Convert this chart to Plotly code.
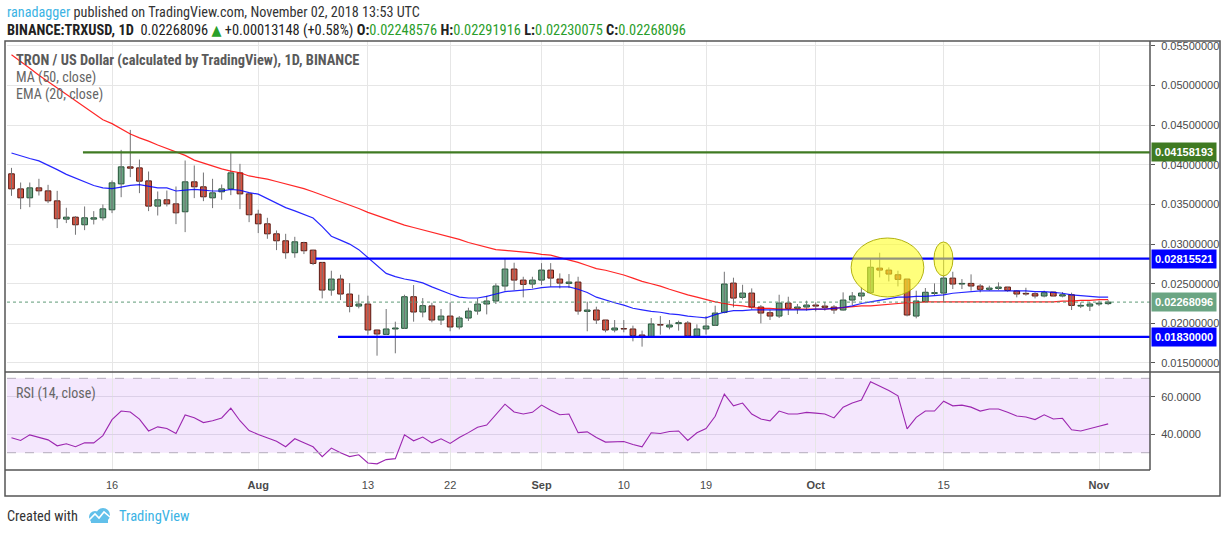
import pandas as pd
import plotly.graph_objects as go

# ---------------- data ----------------
start_date = "2018-07-05"

opens = [
    0.03887, 0.03697, 0.03584, 0.03710, 0.03672, 0.03546, 0.03315, 0.03340, 0.03244, 0.03315,
    0.03332, 0.03433, 0.03760, 0.03975, 0.03962, 0.03798, 0.03479, 0.03559, 0.03508, 0.03408,
    0.03786, 0.03723, 0.03584, 0.03660, 0.03697, 0.03899, 0.03634, 0.03378, 0.03256, 0.03130,
    0.03042, 0.02891, 0.03020, 0.02924, 0.02769, 0.02420, 0.02559, 0.02370, 0.02218, 0.02244,
    0.01916, 0.01861, 0.01929, 0.01937, 0.02336, 0.02143, 0.02220, 0.02042, 0.02092, 0.01954,
    0.02067, 0.02155, 0.02244, 0.02282, 0.02471, 0.02685, 0.02546, 0.02496, 0.02546, 0.02672,
    0.02559, 0.02504, 0.02521, 0.02151, 0.02168, 0.02042, 0.01916, 0.01933, 0.01929, 0.01853,
    0.01824, 0.01983, 0.01954, 0.01996, 0.02004, 0.01840, 0.01929, 0.01975, 0.02139, 0.02508,
    0.02328, 0.02382, 0.02206, 0.02134, 0.02092, 0.02256, 0.02189, 0.02206, 0.02231, 0.02218,
    0.02206, 0.02168, 0.02294, 0.02345, 0.02387, 0.02697, 0.02672, 0.02613, 0.02559, 0.02092,
    0.02273, 0.02378, 0.02382, 0.02571, 0.02496, 0.02504, 0.02471, 0.02429, 0.02441, 0.02458,
    0.02408, 0.02378, 0.02374, 0.02345, 0.02395, 0.02345, 0.02361, 0.02218, 0.02218, 0.02244,
    0.02249,
]
highs = [
    0.03962, 0.03777, 0.03777, 0.03824, 0.03748, 0.03672, 0.03458, 0.03353, 0.03475, 0.03416,
    0.03500, 0.03803, 0.04189, 0.04441, 0.04067, 0.03916, 0.03664, 0.03676, 0.03727, 0.04055,
    0.03992, 0.03903, 0.03824, 0.03752, 0.04151, 0.04013, 0.03651, 0.03433, 0.03332, 0.03172,
    0.03130, 0.03092, 0.03030, 0.02928, 0.02773, 0.02664, 0.02613, 0.02508, 0.02361, 0.02349,
    0.01920, 0.02181, 0.02021, 0.02361, 0.02483, 0.02319, 0.02260, 0.02181, 0.02265, 0.02092,
    0.02197, 0.02315, 0.02349, 0.02504, 0.02824, 0.02765, 0.02588, 0.02588, 0.02760, 0.02760,
    0.02630, 0.02622, 0.02588, 0.02273, 0.02210, 0.02042, 0.02042, 0.02042, 0.01971, 0.01908,
    0.02067, 0.02092, 0.02042, 0.02034, 0.02029, 0.01987, 0.02092, 0.02223, 0.02651, 0.02576,
    0.02487, 0.02441, 0.02231, 0.02172, 0.02361, 0.02336, 0.02244, 0.02286, 0.02265, 0.02270,
    0.02231, 0.02391, 0.02395, 0.02458, 0.02812, 0.02891, 0.02706, 0.02664, 0.02559, 0.02412,
    0.02446, 0.02504, 0.02998, 0.02651, 0.02559, 0.02618, 0.02496, 0.02475, 0.02517, 0.02458,
    0.02420, 0.02449, 0.02391, 0.02412, 0.02395, 0.02395, 0.02387, 0.02265, 0.02269, 0.02286,
    0.02292,
]
lows = [
    0.03609, 0.03441, 0.03466, 0.03613, 0.03517, 0.03202, 0.03265, 0.03118, 0.03176, 0.03248,
    0.03298, 0.03391, 0.03592, 0.03845, 0.03643, 0.03416, 0.03361, 0.03475, 0.03252, 0.03151,
    0.03580, 0.03542, 0.03454, 0.03559, 0.03618, 0.03441, 0.03277, 0.03139, 0.03067, 0.02924,
    0.02815, 0.02828, 0.02874, 0.02735, 0.02315, 0.02349, 0.02294, 0.02139, 0.02189, 0.01857,
    0.01592, 0.01853, 0.01622, 0.01929, 0.02021, 0.02076, 0.02013, 0.01979, 0.01900, 0.01924,
    0.02030, 0.02109, 0.02113, 0.02244, 0.02412, 0.02420, 0.02328, 0.02441, 0.02483, 0.02462,
    0.02441, 0.02445, 0.02109, 0.01900, 0.01992, 0.01887, 0.01887, 0.01887, 0.01773, 0.01706,
    0.01824, 0.01857, 0.01924, 0.01908, 0.01832, 0.01832, 0.01857, 0.01966, 0.02126, 0.02202,
    0.02303, 0.02172, 0.02000, 0.02042, 0.02067, 0.02105, 0.02118, 0.02160, 0.02151, 0.02160,
    0.02120, 0.02160, 0.02231, 0.02294, 0.02378, 0.02580, 0.02529, 0.02466, 0.02088, 0.02063,
    0.02265, 0.02357, 0.02273, 0.02433, 0.02433, 0.02412, 0.02391, 0.02412, 0.02420, 0.02399,
    0.02328, 0.02349, 0.02315, 0.02328, 0.02345, 0.02328, 0.02168, 0.02193, 0.02155, 0.02218,
    0.02230,
]
closes = [
    0.03697, 0.03584, 0.03710, 0.03672, 0.03546, 0.03320, 0.03340, 0.03244, 0.03332, 0.03332,
    0.03445, 0.03773, 0.03975, 0.03958, 0.03794, 0.03479, 0.03559, 0.03508, 0.03395, 0.03786,
    0.03723, 0.03597, 0.03647, 0.03697, 0.03899, 0.03634, 0.03370, 0.03256, 0.03130, 0.03042,
    0.02891, 0.03029, 0.02916, 0.02756, 0.02420, 0.02559, 0.02370, 0.02214, 0.02244, 0.01916,
    0.01866, 0.01929, 0.01941, 0.02336, 0.02143, 0.02223, 0.02042, 0.02092, 0.01954, 0.02067,
    0.02155, 0.02244, 0.02282, 0.02471, 0.02685, 0.02546, 0.02492, 0.02546, 0.02672, 0.02571,
    0.02508, 0.02521, 0.02155, 0.02168, 0.02042, 0.01916, 0.01941, 0.01929, 0.01845, 0.01824,
    0.01992, 0.01979, 0.01979, 0.02008, 0.01840, 0.01929, 0.01966, 0.02130, 0.02496, 0.02319,
    0.02382, 0.02206, 0.02130, 0.02092, 0.02256, 0.02189, 0.02206, 0.02231, 0.02218, 0.02202,
    0.02168, 0.02294, 0.02345, 0.02382, 0.02708, 0.02672, 0.02622, 0.02555, 0.02105, 0.02282,
    0.02392, 0.02387, 0.02571, 0.02496, 0.02504, 0.02471, 0.02429, 0.02445, 0.02458, 0.02416,
    0.02370, 0.02370, 0.02345, 0.02387, 0.02345, 0.02361, 0.02227, 0.02227, 0.02244, 0.02255,
    0.02268,
]
ma50 = [
    0.0539, 0.0531, 0.0522, 0.0513, 0.0505, 0.0497, 0.0488, 0.0480, 0.0472, 0.0464,
    0.0457, 0.0452, 0.0445, 0.0439, 0.0434, 0.0430, 0.0425, 0.0421, 0.0416, 0.0412,
    0.0406, 0.0402, 0.0399, 0.0395, 0.0392, 0.0390, 0.0386, 0.0384, 0.0382, 0.0379,
    0.0376, 0.0373, 0.0370, 0.0366, 0.0362, 0.0358, 0.0354, 0.0349, 0.0345, 0.0340,
    0.0336, 0.0332, 0.0328, 0.0324, 0.0321, 0.0318, 0.0315, 0.0312, 0.0309, 0.0306,
    0.0302, 0.0299, 0.0296, 0.0293, 0.0292, 0.0291, 0.0290, 0.0289, 0.0287, 0.0286,
    0.0283, 0.0280, 0.0277, 0.0273, 0.0269, 0.0267, 0.0264, 0.0261, 0.0257, 0.0253,
    0.0250, 0.0247, 0.0243, 0.0239, 0.0236, 0.0233, 0.0230, 0.0227, 0.0225, 0.0223,
    0.0222, 0.0220, 0.0219, 0.0219, 0.0218, 0.0218, 0.0218, 0.0218, 0.0218, 0.0218,
    0.0219, 0.0220, 0.0221, 0.0222, 0.0222, 0.0223, 0.0224, 0.0225, 0.0226, 0.0226,
    0.0227, 0.0227, 0.0227, 0.0227, 0.0227, 0.0227, 0.0227, 0.0227, 0.0227, 0.0227,
    0.0227, 0.0227, 0.0227, 0.0227, 0.0227, 0.0228, 0.0228, 0.0229, 0.0229, 0.0230,
    0.0230,
]
ema20 = [
    0.0415, 0.0411, 0.0408, 0.0405, 0.0400, 0.0394, 0.0388, 0.0383, 0.0379, 0.0374,
    0.0371, 0.0370, 0.0372, 0.0374, 0.0375, 0.0373, 0.0371, 0.0371, 0.0367, 0.0368,
    0.0369, 0.0368, 0.0367, 0.0367, 0.0369, 0.0368, 0.0365, 0.0363, 0.0357, 0.0352,
    0.0346, 0.0342, 0.0337, 0.0333, 0.0322, 0.0310, 0.0305, 0.0300, 0.0293, 0.0283,
    0.0272, 0.0263, 0.0259, 0.0256, 0.0254, 0.0251, 0.0246, 0.0241, 0.0237, 0.0233,
    0.0232, 0.0232, 0.0234, 0.0237, 0.0240, 0.0241, 0.0242, 0.0243, 0.0245, 0.0246,
    0.0246, 0.0246, 0.0243, 0.0239, 0.0233, 0.0229, 0.0226, 0.0223, 0.0219, 0.0217,
    0.0215, 0.0214, 0.0212, 0.0211, 0.0209, 0.0208, 0.0207, 0.0211, 0.0214, 0.0216,
    0.0216, 0.0217, 0.0217, 0.0217, 0.0217, 0.0217, 0.0217, 0.0217, 0.0218, 0.0218,
    0.0219, 0.0220, 0.0222, 0.0225, 0.0227, 0.0229, 0.0231, 0.0233, 0.0233, 0.0234,
    0.0234, 0.0235, 0.0236, 0.0238, 0.0239, 0.0240, 0.0241, 0.0241, 0.0241, 0.0241,
    0.0241, 0.0241, 0.0240, 0.0240, 0.0239, 0.0238, 0.0236, 0.0235, 0.0234, 0.0233,
    0.0233,
]
rsi14 = [
    38.0, 36.6, 39.6, 38.4, 36.9, 33.7, 34.8, 33.2, 35.3, 35.3,
    39.2, 47.8, 52.4, 51.9, 48.1, 41.7, 43.9, 43.0, 40.3, 50.3,
    48.8, 46.2, 47.2, 48.7, 54.0, 47.2, 41.9, 39.8, 38.0, 36.2,
    33.2, 37.5, 35.3, 33.2, 27.9, 32.5, 30.0, 27.9, 28.9, 24.5,
    24.0, 26.3, 26.8, 39.6, 36.4, 38.4, 35.3, 37.5, 35.0, 38.2,
    40.8, 43.7, 44.9, 50.4, 56.1, 51.9, 50.8, 51.7, 55.6, 52.8,
    50.4, 50.8, 40.8, 41.2, 38.2, 35.7, 36.0, 36.0, 34.4, 33.2,
    40.7, 40.3, 41.4, 41.7, 36.6, 40.7, 43.0, 49.6, 61.5, 55.2,
    56.7, 50.8, 48.1, 47.1, 52.4, 50.8, 50.8, 51.7, 51.3, 50.8,
    48.7, 54.5, 56.7, 58.3, 68.2, 65.9, 63.4, 60.6, 42.8, 49.0,
    52.4, 52.4, 57.7, 55.2, 55.6, 54.5, 52.4, 53.5, 53.5, 51.7,
    49.7, 49.2, 47.8, 50.4, 48.1, 48.5, 42.3, 41.7, 42.8, 44.2,
    45.5,
]

tick_dates = ["2018-07-16", "2018-08-01", "2018-08-13", "2018-08-22", "2018-09-01",
              "2018-09-10", "2018-09-19", "2018-10-01", "2018-10-15", "2018-11-01"]
tick_labels = ["16", "<b>Aug</b>", "13", "22", "<b>Sep</b>", "10", "19", "<b>Oct</b>", "15", "<b>Nov</b>"]
price_ticks = [0.015, 0.020, 0.025, 0.030, 0.035, 0.040, 0.045, 0.050, 0.055]
rsi_ticks = [40, 60]
rsi_bands = [30, 70]

level_values = [0.04158193, 0.02815521, 0.01830000]
level_starts = ["2018-07-12 19:40", "2018-08-07 07:10", "2018-08-09 17:30"]
level_colors = ["#3f7a22", "#0000ff", "#0000ff"]
last_price = 0.02268096

ellipse_x = [("2018-10-04 21:00", "2018-10-12 20:00"), ("2018-10-13 22:30", "2018-10-16 00:30")]
ellipse_y = [(0.02333, 0.03077), (0.02598, 0.03027)]

x_range = ["2018-07-04 12:12", "2018-11-06 13:55"]
y_range = [0.01386, 0.05563]
rsi_range = [20.7, 73.4]

# ---------------- figure ----------------
dates = pd.date_range(start_date, periods=len(closes), freq="D")
W, H = 1227, 533
ML, MR, MT, MB = 7, 77, 41, 63
PW, PH = W - ML - MR, H - MT - MB


def xp(px):
    return (px - ML) / PW


def yp(py):
    return (H - MB - py) / PH


split = yp(372)
AX = "Liberation Sans, Arial, sans-serif"
NARROW = "Liberation Sans Narrow, Arial Narrow, Roboto Condensed, DejaVu Sans Condensed, Liberation Sans, sans-serif"

fig = go.Figure()

# wicks
wx, wy = [], []
for d, hi, lo in zip(dates, highs, lows):
    wx += [d, d, None]
    wy += [lo, hi, None]
fig.add_trace(go.Scatter(x=wx, y=wy, mode="lines", line=dict(color="#737375", width=1),
                         hoverinfo="skip", xaxis="x", yaxis="y"))


def add_bodies(is_up, fill, edge):
    sel = [i for i in range(len(closes)) if (closes[i] >= opens[i]) == is_up]
    fig.add_trace(go.Bar(
        x=[dates[i] for i in sel],
        base=[min(opens[i], closes[i]) for i in sel],
        y=[max(abs(closes[i] - opens[i]), 0.00002) for i in sel],
        width=0.62 * 86400000,
        marker=dict(color=fill, line=dict(color=edge, width=1)),
        hoverinfo="skip", xaxis="x", yaxis="y"))


add_bodies(True, "#6ba583", "#225437")
add_bodies(False, "#d75442", "#5b1a13")

fig.add_trace(go.Scatter(x=dates, y=ma50, mode="lines", line=dict(color="rgba(255,0,0,0.85)", width=1.2),
                         hoverinfo="skip", xaxis="x", yaxis="y"))
fig.add_trace(go.Scatter(x=dates, y=ema20, mode="lines", line=dict(color="rgba(0,0,255,0.85)", width=1.2),
                         hoverinfo="skip", xaxis="x", yaxis="y"))
fig.add_trace(go.Scatter(x=dates, y=rsi14, mode="lines", line=dict(color="#9c27b0", width=1.1),
                         hoverinfo="skip", xaxis="x2", yaxis="y2"))

shapes = []
# RSI band and dashed bounds
shapes.append(dict(type="rect", xref="paper", x0=0, x1=1, yref="y2", y0=rsi_bands[0], y1=rsi_bands[1],
                   fillcolor="#f4e7fd", line=dict(width=0), layer="below"))
for b in rsi_bands:
    shapes.append(dict(type="line", xref="paper", x0=0, x1=1, yref="y2", y0=b, y1=b,
                       line=dict(color="#b3abbb", width=1, dash="dash")))
# current price dotted line
shapes.append(dict(type="line", xref="paper", x0=0, x1=1, yref="y", y0=last_price, y1=last_price,
                   line=dict(color="#5f9a78", width=1, dash="dot")))
# horizontal levels
for v, s, c in zip(level_values, level_starts, level_colors):
    shapes.append(dict(type="line", xref="x", x0=s, x1=x_range[1], yref="y", y0=v, y1=v,
                       line=dict(color=c, width=2.2)))
# highlight ellipses
for (x0, x1), (y0, y1) in zip(ellipse_x, ellipse_y):
    shapes.append(dict(type="circle", xref="x", x0=x0, x1=x1, yref="y", y0=y0, y1=y1,
                       fillcolor="rgba(255,255,30,0.58)", line=dict(color="rgba(170,170,0,0.9)", width=1)))
# frame lines
BC = "#555555"
shapes += [
    dict(type="rect", xref="paper", yref="paper", x0=xp(5), x1=xp(1220), y0=yp(496), y1=yp(41),
         line=dict(color=BC, width=1.5)),
    dict(type="line", xref="paper", yref="paper", x0=1, x1=1, y0=0, y1=1, line=dict(color=BC, width=1.5)),
    dict(type="line", xref="paper", yref="paper", x0=xp(5), x1=xp(1220), y0=split, y1=split,
         line=dict(color=BC, width=1.5)),
    dict(type="line", xref="paper", yref="paper", x0=xp(5), x1=1, y0=0, y1=0, line=dict(color=BC, width=1.5)),
]
# TradingView logo (footer)
LOGO = "#62c0ea"
shapes += [
    dict(type="circle", xref="paper", yref="paper", x0=xp(89), x1=xp(101), y0=yp(523), y1=yp(511),
         fillcolor=LOGO, line=dict(width=0)),
    dict(type="circle", xref="paper", yref="paper", x0=xp(96), x1=xp(110), y0=yp(522), y1=yp(508),
         fillcolor=LOGO, line=dict(width=0)),
    dict(type="rect", xref="paper", yref="paper", x0=xp(91), x1=xp(108), y0=yp(523), y1=yp(516),
         fillcolor=LOGO, line=dict(width=0)),
    dict(type="path", xref="paper", yref="paper",
         path=f"M {xp(89)} {yp(520)} L {xp(95)} {yp(514)} L {xp(99)} {yp(518)} L {xp(104)} {yp(512)} L {xp(110)} {yp(517)}",
         line=dict(color="white", width=1.6)),
]

annotations = []
# level labels on price axis
for v, c in zip(level_values, level_colors):
    annotations.append(dict(xref="paper", x=1, xanchor="left", xshift=1, yref="y", y=v,
                            text=f"<b>{v:.8f}</b>", showarrow=False, bgcolor=c, borderpad=3,
                            font=dict(color="white", size=11, family=AX)))
annotations.append(dict(xref="paper", x=1, xanchor="left", xshift=1, yref="y", y=last_price,
                        text=f"<b>{last_price:.8f}</b>", showarrow=False, bgcolor="#6ba583", borderpad=3,
                        font=dict(color="white", size=11, family=AX)))

GREEN = "#2a9d2a"
header1 = ('<span style="color:#3bb3e4">ranadagger</span> published on TradingView.com, '
           'November 02, 2018 13:53 UTC')
header2 = ('<b>BINANCE:TRXUSD, 1D</b>  0.02268096 <span style="color:#2aa02a">▲</span> +0.00013148 (+0.58%) '
           f'<b>O:</b><span style="color:{GREEN}">0.02248576</span> '
           f'<b>H:</b><span style="color:{GREEN}">0.02291916</span> '
           f'<b>L:</b><span style="color:{GREEN}">0.02230075</span> '
           f'<b>C:</b><span style="color:{GREEN}">0.02268096</span>')
texts = [
    (5, 12, header1, "#333333", 14.2),
    (5, 30, header2, "#222222", 14.4),
    (14, 60, "<b>TRON / US Dollar (calculated by TradingView), 1D, BINANCE</b>", "#5a5a5a", 14.4),
    (14, 78, "MA (50, close)", "#666666", 14),
    (14, 95, "EMA (20, close)", "#666666", 14),
    (14, 393, "RSI (14, close)", "#666666", 14),
    (5, 516, "Created with", "#333333", 14.3),
    (117, 516, "TradingView", "#3bb3e4", 14.5),
]
for x, y, t, col, sz in texts:
    annotations.append(dict(xref="paper", yref="paper", x=xp(x), y=yp(y), xanchor="left", yanchor="middle",
                            text=t, showarrow=False, font=dict(color=col, size=sz, family=NARROW)))

tickfont = dict(family=AX, size=11, color="#4a4a4a")
fig.update_layout(
    width=W, height=H,
    margin=dict(l=ML, r=MR, t=MT, b=MB),
    paper_bgcolor="white", plot_bgcolor="white",
    showlegend=False, barmode="overlay", hovermode=False,
    xaxis=dict(domain=[0, 1], anchor="y", type="date", range=x_range, tickvals=tick_dates,
               showticklabels=False, showgrid=True, gridcolor="#e6e6e6", zeroline=False,
               ticks="", showline=False),
    xaxis2=dict(domain=[0, 1], anchor="y2", type="date", range=x_range, matches="x",
                tickvals=tick_dates, ticktext=tick_labels, showgrid=True, gridcolor="#e6e6e6",
                zeroline=False, ticks="", showline=False, tickfont=tickfont, ticklabelstandoff=7),
    yaxis=dict(domain=[split, 1], anchor="x", side="right", range=y_range, tickvals=price_ticks,
               tickformat=".8f", ticks="outside", ticklen=4, tickcolor=BC, showgrid=True,
               gridcolor="#e6e6e6", zeroline=False, showline=False, tickfont=tickfont,
               ticklabelstandoff=4),
    yaxis2=dict(domain=[0, split], anchor="x2", side="right", range=rsi_range, tickvals=rsi_ticks,
                tickformat=".4f", ticks="outside", ticklen=4, tickcolor=BC, showgrid=True,
                gridcolor="#dcd0e8", zeroline=False, showline=False, tickfont=tickfont,
                ticklabelstandoff=4),
    shapes=shapes,
    annotations=annotations,
)

fig.write_html("out.html", config={"displayModeBar": False},
               post_script="document.body.style.margin='0px';")
